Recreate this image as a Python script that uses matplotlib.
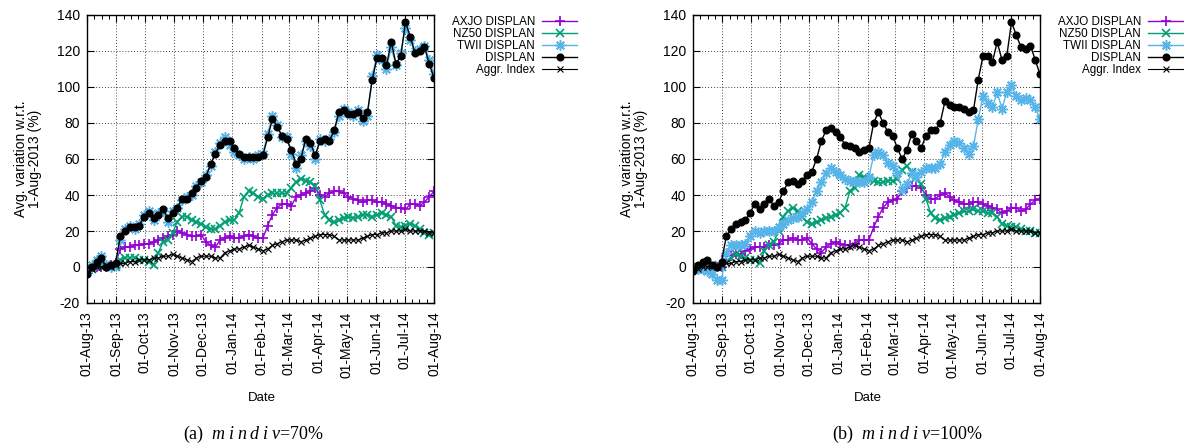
import numpy as np
import pandas as pd
import matplotlib
matplotlib.use("Agg")
import matplotlib.pyplot as plt
import matplotlib.dates as mdates
from matplotlib.ticker import FixedLocator, NullLocator

plt.rcParams['font.family'] = ['Liberation Sans', 'DejaVu Sans']
plt.rcParams['mathtext.fontset'] = 'custom'
plt.rcParams['mathtext.it'] = 'Liberation Serif:italic'
plt.rcParams['mathtext.rm'] = 'Liberation Serif'
plt.rcParams['axes.unicode_minus'] = False

# sampling days after 1-Aug-2013 (every 5 days)
day_offsets = list(range(0, 366, 5))
start_date = "2013-08-01"

# ---- panel (a) mindiv = 70% ----
axjo_a = [-2, -1, 0, 0, 0, 1, 2, 10, 11, 11,
          12, 12, 13, 13, 14, 15, 16, 17, 18, 20,
          19, 18, 17, 17, 18, 14, 12, 11, 15, 16,
          17, 16, 16, 17, 18, 17, 16, 16, 23, 29,
          33, 35, 35, 34, 39, 40, 41, 42, 44, 40,
          39, 41, 42, 42, 41, 39, 38, 37, 36, 37,
          37, 36, 36, 35, 34, 33, 33, 32, 35, 35,
          34, 36, 39, 42]
nz50_a = [0, -1, 0, 1, 1, 0, 0, 4, 5, 5,
          5, 4, 4, 3, 1, 8, 14, 15, 19, 25,
          28, 28, 26, 25, 24, 22, 21, 21, 23, 25,
          26, 26, 30, 39, 42, 41, 39, 38, 40, 41,
          41, 41, 41, 44, 47, 49, 48, 47, 45, 37,
          29, 26, 25, 26, 27, 28, 27, 28, 29, 29,
          28, 29, 30, 29, 28, 23, 22, 23, 24, 23,
          21, 19, 18, 19]
twii_a = [-3, 1, 4, 6, 1, 0, 1, 15, 21, 23,
          21, 24, 29, 31, 26, 30, 31, 25, 31, 33,
          37, 39, 40, 45, 47, 51, 56, 64, 69, 72,
          68, 64, 62, 60, 61, 60, 62, 63, 74, 84,
          79, 72, 72, 63, 55, 62, 70, 67, 60, 71,
          70, 71, 75, 84, 88, 86, 84, 87, 81, 84,
          106, 118, 115, 110, 122, 112, 119, 133, 126, 120,
          121, 123, 115, 107]
disp_a = [-4, 0, 3, 5, 0, 1, 2, 17, 20, 22,
          22, 23, 28, 30, 27, 29, 32, 27, 30, 33,
          38, 38, 41, 44, 48, 50, 57, 63, 68, 70,
          70, 66, 63, 61, 61, 61, 61, 62, 72, 82,
          78, 73, 71, 65, 57, 60, 71, 69, 62, 70,
          71, 70, 76, 86, 87, 85, 85, 86, 83, 86,
          104, 116, 116, 112, 125, 113, 117, 136, 128, 119,
          120, 122, 113, 105]

# ---- panel (b) mindiv = 100% ----
axjo_b = [-1, 0, 0, 1, 0, 0, 0, 6, 6, 7,
          7, 9, 10, 11, 11, 11, 12, 12, 13, 15,
          15, 16, 15, 15, 16, 13, 10, 8, 11, 13,
          14, 13, 12, 12, 13, 15, 15, 15, 22, 28,
          33, 36, 37, 38, 42, 44, 45, 45, 44, 40,
          38, 38, 40, 41, 39, 37, 36, 35, 35, 36,
          36, 35, 34, 33, 32, 30, 31, 33, 33, 31,
          32, 35, 37, 38]
nz50_b = [0, 0, -1, 0, 1, 0, 0, 3, 5, 7,
          6, 5, 4, 4, 2, 9, 12, 14, 20, 28,
          31, 33, 31, 28, 25, 24, 25, 26, 27, 28,
          29, 30, 33, 42, 44, 51, 50, 49, 48, 47,
          47, 48, 48, 49, 54, 56, 53, 50, 46, 38,
          30, 27, 26, 27, 28, 29, 30, 31, 31, 32,
          31, 31, 30, 30, 28, 24, 23, 22, 22, 21,
          20, 20, 19, 19]
twii_b = [-1, -1, -1, -2, -4, -7, -7, 8, 12, 12,
          12, 13, 17, 20, 19, 20, 20, 20, 22, 24,
          26, 27, 28, 30, 32, 36, 42, 47, 52, 55,
          53, 51, 49, 48, 48, 47, 47, 50, 62, 64,
          62, 58, 56, 52, 43, 46, 52, 50, 53, 55,
          55, 55, 57, 64, 68, 70, 69, 66, 63, 67,
          82, 95, 91, 89, 97, 88, 97, 101, 95, 93,
          94, 93, 89, 82]
disp_b = [-2, 1, 3, 4, 1, 0, 3, 17, 21, 24,
          25, 26, 30, 35, 32, 35, 38, 34, 36, 42,
          47, 48, 46, 48, 51, 53, 60, 70, 76, 77,
          75, 72, 68, 67, 66, 64, 65, 66, 80, 86,
          80, 75, 73, 66, 60, 65, 74, 70, 66, 73,
          76, 76, 80, 92, 90, 89, 89, 88, 86, 87,
          104, 117, 117, 114, 125, 115, 117, 136, 129, 122,
          121, 123, 115, 107]

# ---- aggregated index (same in both panels) ----
aggr = [0, -1, 0, 0, 1, 0, 1, 2, 2, 3,
        3, 4, 4, 4, 5, 5, 6, 6, 7, 6,
        5, 4, 3, 5, 6, 6, 6, 5, 5, 8,
        9, 10, 10, 11, 12, 11, 10, 9, 10, 12,
        13, 14, 15, 15, 15, 14, 15, 16, 17, 18,
        18, 18, 17, 15, 15, 15, 15, 15, 16, 17,
        18, 18, 19, 19, 20, 20, 20, 21, 20, 20,
        20, 20, 19, 19]

series_labels = ["AXJO DISPLAN", "NZ50 DISPLAN", "TWII DISPLAN", "DISPLAN", "Aggr. Index"]
month_ticks = pd.date_range("2013-08-01", "2014-08-01", freq="MS")
y_ticks = [-20, 0, 20, 40, 60, 80, 100, 120, 140]
captions = [r"(a)  $m\;i\;n\;d\;i\;v$=70%", r"(b)  $m\;i\;n\;d\;i\;v$=100%"]

dates = pd.Timestamp(start_date) + pd.to_timedelta(day_offsets, unit="D")

W, H = 1184, 445
fig = plt.figure(figsize=(W / 100, H / 100), dpi=100)

ax_w = 347 / W
ax_h = 288 / H
ax_y = 1 - 303 / H
axes = [fig.add_axes([87 / W, ax_y, ax_w, ax_h]),
        fig.add_axes([693 / W, ax_y, ax_w, ax_h])]

panels = [(axjo_a, nz50_a, twii_a, disp_a, aggr),
          (axjo_b, nz50_b, twii_b, disp_b, aggr)]

colors = ["#9400D3", "#009E73", "#56B4E9", "black", "black"]

mnum = mdates.date2num(month_ticks)
minor_pos = []
for i in range(len(mnum) - 1):
    step = (mnum[i + 1] - mnum[i]) / 4
    minor_pos += [mnum[i] + k * step for k in (1, 2, 3)]

caption_x = [183, 832]

for idx, (ax, data) in enumerate(zip(axes, panels)):
    a, n, t, d, g = data
    ax.plot(dates, a, color=colors[0], marker="+", ms=6.5, mew=1.2, lw=1, label=series_labels[0])
    ax.plot(dates, n, color=colors[1], marker="x", ms=5.5, mew=1.2, lw=1, label=series_labels[1])
    ax.plot(dates, t, color=colors[2], marker=(8, 2, 0), ms=7.5, mew=1.1, lw=1, label=series_labels[2])
    ax.plot(dates, d, color=colors[3], marker="o", ms=4.8, lw=1, label=series_labels[3])
    ax.plot(dates, g, color=colors[4], marker="x", ms=4, mew=0.8, lw=0.8, label=series_labels[4])

    ax.set_xlim(month_ticks[0], month_ticks[-1])
    ax.set_ylim(-20, 140)
    ax.set_yticks(y_ticks)
    ax.set_xticks(month_ticks)
    ax.xaxis.set_major_formatter(mdates.DateFormatter("%d-%b-%y"))
    ax.xaxis.set_minor_locator(FixedLocator(minor_pos))
    ax.yaxis.set_minor_locator(NullLocator())
    ax.tick_params(axis="both", which="major", direction="in", top=True, right=True,
                   length=5, width=0.8, labelsize=10, colors="black")
    ax.tick_params(axis="x", which="major", pad=6, labelrotation=90)
    ax.tick_params(axis="y", which="major", pad=5)
    ax.tick_params(axis="x", which="minor", direction="in", top=True, length=3, width=0.7)
    ax.grid(True, which="major", color="black", linestyle=(0, (1, 2.5)), lw=0.6)
    for s in ax.spines.values():
        s.set_linewidth(1.0)
        s.set_color("black")

    ax.legend(loc="upper right", bbox_to_anchor=((87 + 606 * idx + 490) / W, 1 - 16 / H),
              bbox_transform=fig.transFigure, frameon=False, markerfirst=False,
              fontsize=8.4, handlelength=3.0, handletextpad=0.6, labelspacing=0.0,
              borderpad=0, borderaxespad=0, numpoints=1)

    cx = 87 + 606 * idx
    fig.text((cx - 59) / W, 1 - 159 / H, "Avg. variation w.r.t.\n1-Aug-2013 (%)",
             rotation=90, ha="center", va="center", fontsize=10, multialignment="center",
             linespacing=1.0)
    fig.text((cx + 175) / W, 1 - 398 / H, "Date", ha="center", va="center", fontsize=9.5)
    fig.text(caption_x[idx] / W, 1 - 434 / H, captions[idx], ha="left", va="center",
             fontsize=13, family="Liberation Serif")

fig.savefig("out.png", dpi=100)
